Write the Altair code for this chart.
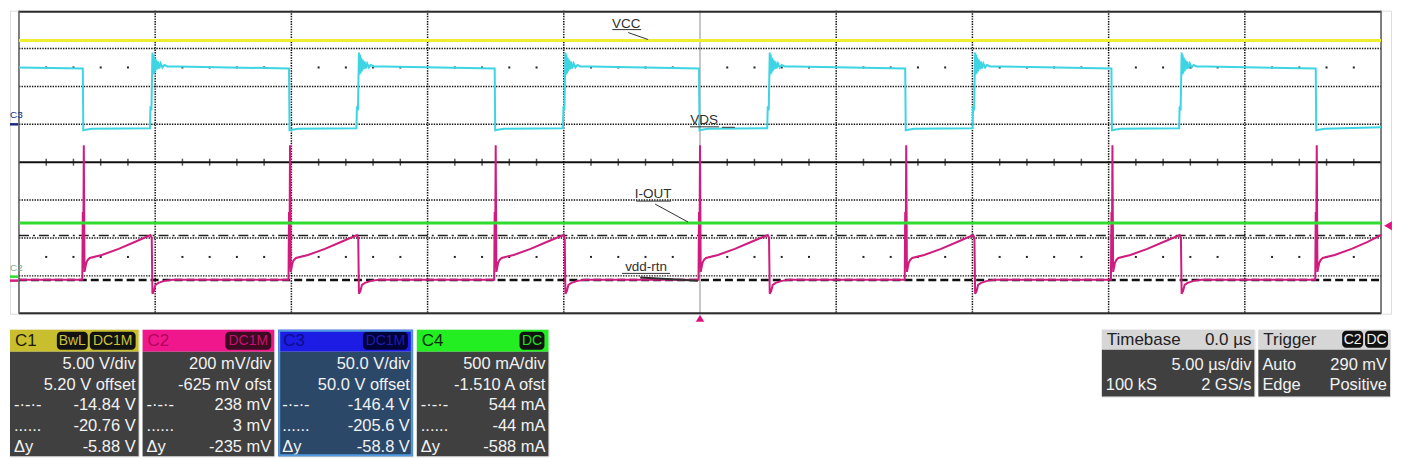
import altair as alt
import pandas as pd

# ---------------- screen conventions ----------------
# x : time in µs (5 µs/div, trigger 0 µs at the centre of the 10-div screen)
# y : screen divisions (8 div tall, centre line = 0)
T_MIN, T_MAX = -25.0, 25.0
PX_PER_US = 27.32
X_LO = T_MIN - 9 / PX_PER_US      # room for the channel markers on the left
X_HI = T_MAX + 10 / PX_PER_US     # room for the trigger-level marker on the right

# ---------------- channel settings (readout panels) ----------------
ch_vdiv = [5.0, 0.200, 50.0, 0.500]
ch_offset = [5.20, -0.625, 50.0, -1.510]
c2_cursor_a = 0.238   # dash-dot cursor, V
c2_cursor_b = 0.003   # second cursor, V
trig_level = 0.290    # V on C2
trig_time = 0.0

# ---------------- switching instants (µs) ----------------
turn_on = [-22.62, -15.05, -7.50, 0.00, 7.57, 15.14, 22.64]
turn_off = [-20.10, -12.52, -4.94, 2.56, 10.10, 17.68]

# flat traces (div)
vcc_level = 3.21      # C1 VCC
iout_level = -1.605   # C4 I-OUT

# C3 VDS edge shapes (dt µs relative to edge, level in div)
vds_start = 2.50
vds_fall_dt = [-0.037, -0.018, 0.073, 0.293]
vds_fall_y = [2.474, 0.842, 0.855, 0.882]
vds_rise_dt = [-0.092, -0.073, -0.037, 0.0, 0.018, 0.037, 0.059, 0.080, 0.106,
               0.135, 0.168, 0.205, 0.249, 0.300, 0.366, 0.439, 0.549, 0.915]
vds_rise_y = [0.895, 1.474, 1.368, 2.895, 2.316, 2.842, 2.342, 2.763, 2.395,
              2.711, 2.447, 2.658, 2.474, 2.605, 2.500, 2.566, 2.526, 2.526]
vds_end = 0.92

# C2 current sense (spike + ramp at turn-on, undershoot at turn-off)
cs_base = -3.105
cs_on_dt = [-0.055, -0.037, -0.022, 0.0, 0.026, 0.055, 0.092, 0.146, 0.22, 0.66, 1.28, 1.87]
cs_on_y = [-3.105, -1.316, -2.789, 0.447, -2.895, -2.789, -2.658, -2.579, -2.526, -2.447, -2.289, -2.105]
cs_off_dt = [-0.073, -0.026, 0.0, 0.055, 0.11, 0.22, 0.44, 0.73]
cs_off_y = [-1.921, -2.0, -3.474, -3.395, -3.237, -3.184, -3.132, -3.105]
cs_end = -1.92

# annotations on the screen
ann_text = ["VCC", "VDS", "I-OUT", "vdd-rtn"]
ann_t = [-2.71, 0.15, -1.72, -1.98]
ann_y = [3.66, 1.105, -0.842, -2.763]
ul_t1 = [-3.22, -0.37, -2.34, -2.86]
ul_t2 = [-2.16, 0.70, -1.06, -1.10]
ul_y = [3.50, 0.934, -1.026, -2.934]
ld_t1 = [-2.635, 0.805, -1.647, -2.196]
ld_y1 = [3.421, 0.921, -1.105, -3.04]
ld_t2 = [-1.903, 1.281, -0.439, -0.073]
ld_y2 = [3.237, 0.921, -1.579, -3.13]

# ---------------- readout panels ----------------
panel_head = ["C1", "C2", "C3", "C4"]
panel_badges = [["BwL", "DC1M"], ["DC1M"], ["DC1M"], ["DC"]]
panel_scale = ["5.00 V/div", "200 mV/div", "50.0 V/div", "500 mA/div"]
panel_offset = ["5.20 V offset", "-625 mV ofst", "50.0 V offset", "-1.510 A ofst"]
panel_cur1 = ["-14.84 V", "238 mV", "-146.4 V", "544 mA"]
panel_cur2 = ["-20.76 V", "3 mV", "-205.6 V", "-44 mA"]
panel_delta = ["-5.88 V", "-235 mV", "-58.8 V", "-588 mA"]
row_marks = ["", "", "-·-·-", "......", "Δy"]
tb_head = ["Timebase", "0.0 µs"]
tb_rows = [["", "5.00 µs/div"], ["100 kS", "2 GS/s"]]
trig_head = "Trigger"
trig_badges = ["C2", "DC"]
trig_rows = [["Auto", "290 mV"], ["Edge", "Positive"]]

# ---------------- styles ----------------
FONT = "Liberation Sans"
COL_VCC, COL_VDS, COL_CS, COL_IOUT = "#eeee30", "#3dd5e3", "#d01b7f", "#2fdc2f"
head_fill = ["#c9bf2e", "#f0178c", "#1c1ce4", "#22ee22"]
head_tc = ["#1a1a00", "#b3005a", "#0c0c8a", "#0b2a0b"]
badge_fill = ["#121212", "#3c0a22", "#02023a", "#121212"]
badge_tc = ["#c9c13a", "#c0156e", "#1d1dae", "#22dd22"]
body_fill = ["#404040", "#404040", "#2c4868", "#404040"]
panel_w = [129, 132, 135, 132]
badge_pos = [[(-82, -51), (-49, -3)], [(-49, -3)], [(-50, -5)], [(-29, -4)]]
trig_badge_pos = [(-48, -27), (-25, -2)]

xs = alt.Scale(domain=[X_LO, X_HI], nice=False, zero=False)
ys = alt.Scale(domain=[-4, 4], nice=False, zero=False)


def XX(f):
    return alt.X(f, scale=xs, axis=None)


def YY(f):
    return alt.Y(f, scale=ys, axis=None)


def trace(start_y, on_dt, on_y, off_dt, off_y, end_y):
    pts = [(T_MIN, start_y)]
    for k, ton in enumerate(turn_on):
        pts += [(ton + d, v) for d, v in zip(on_dt, on_y)]
        if k < len(turn_off):
            pts += [(turn_off[k] + d, v) for d, v in zip(off_dt, off_y)]
    pts.append((T_MAX, end_y))
    return pd.DataFrame({"t": [p[0] for p in pts], "y": [p[1] for p in pts],
                         "i": list(range(len(pts)))})


def line(df, color, width):
    return alt.Chart(df).mark_line(color=color, strokeWidth=width).encode(
        x=XX("t:Q"), y=YY("y:Q"), order="i:Q")


def hrules(ys_, color, width, dash=None, x1=T_MIN, x2=T_MAX):
    df = pd.DataFrame({"y": ys_, "x1": [x1] * len(ys_), "x2": [x2] * len(ys_)})
    kw = dict(color=color, strokeWidth=width)
    if dash:
        kw["strokeDash"] = dash
    return alt.Chart(df).mark_rule(**kw).encode(y=YY("y:Q"), x=XX("x1:Q"), x2="x2:Q")


def vrules(ts, color, width, dash=None):
    df = pd.DataFrame({"t": ts})
    kw = dict(color=color, strokeWidth=width)
    if dash:
        kw["strokeDash"] = dash
    return alt.Chart(df).mark_rule(**kw).encode(x=XX("t:Q"))


# ---------------- scope screen ----------------
major = [T_MIN + 5 * k for k in range(1, 10) if T_MIN + 5 * k != 0]
minor = [float(k) for k in range(-24, 25) if k % 5 != 0]
layers = []
layers.append(vrules(major, "#111111", 1.5, [1.4, 1.2]))
layers.append(vrules([0.0], "#8c8c8c", 1.0))
layers.append(hrules([3, 2, 1, -1, -2, -3], "#111111", 1.5, [1.4, 1.2]))
layers.append(hrules([0], "#111111", 2.0))
layers.append(alt.Chart(pd.DataFrame({"t": minor, "y": [0.0] * len(minor)}))
              .mark_tick(orient="vertical", size=7, thickness=1.5, color="#111111")
              .encode(x=XX("t:Q"), y=YY("y:Q")))
dots = pd.DataFrame({"t": minor * 2, "y": [2.5] * len(minor) + [-2.5] * len(minor)})
layers.append(alt.Chart(dots).mark_square(size=4, color="#222222", opacity=1)
              .encode(x=XX("t:Q"), y=YY("y:Q")))
# frame
layers.append(hrules([4 - 1 / 38], "#2b2b2b", 2.0))
layers.append(hrules([-4 + 0.5 / 38], "#2b2b2b", 2.0))
layers.append(vrules([T_MIN, T_MAX], "#555555", 1.5))
# C2 cursors
cur_a = (c2_cursor_a + ch_offset[1]) / ch_vdiv[1]
cur_b = (c2_cursor_b + ch_offset[1]) / ch_vdiv[1]
layers.append(hrules([cur_a], "#222222", 1.5, [10, 4, 2, 4]))
layers.append(hrules([cur_b], "#111111", 2.5, [8, 4]))
# traces
layers.append(line(pd.DataFrame({"t": [T_MIN, T_MAX], "y": [vcc_level] * 2, "i": [0, 1]}), COL_VCC, 3))
layers.append(line(trace(vds_start, vds_fall_dt, vds_fall_y, vds_rise_dt, vds_rise_y, vds_end), COL_VDS, 2))
layers.append(line(trace(cs_base, cs_on_dt, cs_on_y, cs_off_dt, cs_off_y, cs_end), COL_CS, 2))
layers.append(line(pd.DataFrame({"t": [T_MIN, T_MAX], "y": [iout_level] * 2, "i": [0, 1]}), COL_IOUT, 3))
# annotations
ann = pd.DataFrame({"t": ann_t, "y": ann_y, "s": ann_text})
layers.append(alt.Chart(ann).mark_text(font=FONT, fontSize=13.5, color="#303030",
                                       align="center", baseline="middle")
              .encode(x=XX("t:Q"), y=YY("y:Q"), text="s:N"))
ul = pd.DataFrame({"x1": ul_t1, "x2": ul_t2, "y": ul_y})
layers.append(alt.Chart(ul).mark_rule(color="#303030", strokeWidth=1)
              .encode(x=XX("x1:Q"), x2="x2:Q", y=YY("y:Q")))
ld = pd.DataFrame({"x1": ld_t1, "x2": ld_t2, "y1": ld_y1, "y2": ld_y2, "w": [1, 1, 1, 2]})
layers.append(alt.Chart(ld).mark_rule(color="#303030")
              .encode(x=XX("x1:Q"), x2="x2:Q", y=YY("y1:Q"), y2="y2:Q",
                      strokeWidth=alt.StrokeWidth("w:Q", scale=None)))
# channel ground markers and labels on the left
gnd = [o / v for o, v in zip(ch_offset, ch_vdiv)]
mk = pd.DataFrame({"y": [gnd[2], gnd[3], gnd[1]], "c": ["#1a2a80", COL_IOUT, COL_CS],
                   "x1": [X_LO] * 3, "x2": [T_MIN - 0.03] * 3})
layers.append(alt.Chart(mk).mark_rule(strokeWidth=2.5)
              .encode(x=XX("x1:Q"), x2="x2:Q", y=YY("y:Q"), color=alt.Color("c:N", scale=None)))
lab = pd.DataFrame({"t": [X_LO, X_LO], "y": [gnd[2], gnd[3]], "s": ["C3", "C2"],
                    "c": ["#1a2a80", "#8aa882"]})
layers.append(alt.Chart(lab).mark_text(font=FONT, fontSize=10, align="left", baseline="middle", dy=-9)
              .encode(x=XX("t:Q"), y=YY("y:Q"), text="s:N", color=alt.Color("c:N", scale=None)))
# trigger markers
trig_y = (trig_level + ch_offset[1]) / ch_vdiv[1]
layers.append(alt.Chart(pd.DataFrame({"t": [trig_time], "y": [-4 - 4.5 / 38]}))
              .mark_point(shape="triangle-up", filled=True, size=70, color="#e0107f", opacity=1)
              .encode(x=XX("t:Q"), y=YY("y:Q")))
layers.append(alt.Chart(pd.DataFrame({"t": [T_MAX + 7 / PX_PER_US], "y": [trig_y]}))
              .mark_point(shape="triangle-left", filled=True, size=80, color="#e0107f", opacity=1)
              .encode(x=XX("t:Q"), y=YY("y:Q")))

screen = alt.layer(*layers).properties(width=1385, height=304)


# ---------------- readout panels ----------------
def panel(w, h, head_h, row_y, hfill, bfill, head_l, head_l_c, head_r, head_r_c,
          badges, left_rows, right_rows, border=None):
    pxs = alt.Scale(domain=[0, w], nice=False, zero=False)
    pys = alt.Scale(domain=[0, h], nice=False, zero=False, reverse=True)

    def PX(f):
        return alt.X(f, scale=pxs, axis=None)

    def PY(f):
        return alt.Y(f, scale=pys, axis=None)

    bg = pd.DataFrame({"x0": [0, 0], "x1": [w, w], "y0": [0, head_h], "y1": [head_h, h],
                       "f": [hfill, bfill]})
    L = [alt.Chart(bg).mark_rect().encode(x=PX("x0:Q"), x2="x1:Q", y=PY("y0:Q"), y2="y1:Q",
                                          fill=alt.Fill("f:N", scale=None))]
    if badges:
        bd = pd.DataFrame({"x0": [w + b[0] for b in badges], "x1": [w + b[1] for b in badges],
                           "y0": [b[2] for b in badges], "y1": [b[3] for b in badges],
                           "f": [b[4] for b in badges], "tc": [b[5] for b in badges],
                           "s": [b[6] for b in badges]})
        bd["xc"] = (bd.x0 + bd.x1) / 2
        bd["yc"] = (bd.y0 + bd.y1) / 2
        L.append(alt.Chart(bd).mark_rect(cornerRadius=4).encode(
            x=PX("x0:Q"), x2="x1:Q", y=PY("y0:Q"), y2="y1:Q", fill=alt.Fill("f:N", scale=None)))
        L.append(alt.Chart(bd).mark_text(font=FONT, fontSize=14, baseline="middle", dy=0.5).encode(
            x=PX("xc:Q"), y=PY("yc:Q"), text="s:N", color=alt.Color("tc:N", scale=None)))
    hd = pd.DataFrame({"x": [5, w - 3], "y": [head_h / 2 + 0.5] * 2, "s": [head_l, head_r],
                       "c": [head_l_c, head_r_c]})
    L.append(alt.Chart(hd.iloc[[0]]).mark_text(font=FONT, fontSize=17, align="left", baseline="middle")
             .encode(x=PX("x:Q"), y=PY("y:Q"), text="s:N", color=alt.Color("c:N", scale=None)))
    L.append(alt.Chart(hd.iloc[[1]]).mark_text(font=FONT, fontSize=17, align="right", baseline="middle")
             .encode(x=PX("x:Q"), y=PY("y:Q"), text="s:N", color=alt.Color("c:N", scale=None)))
    lt = pd.DataFrame({"x": [4] * len(row_y), "y": row_y, "s": left_rows})
    rt = pd.DataFrame({"x": [w - 3] * len(row_y), "y": row_y, "s": right_rows})
    L.append(alt.Chart(lt).mark_text(font=FONT, fontSize=16.5, align="left", baseline="middle", color="#f2f2f2")
             .encode(x=PX("x:Q"), y=PY("y:Q"), text="s:N"))
    L.append(alt.Chart(rt).mark_text(font=FONT, fontSize=16.5, align="right", baseline="middle", color="#f2f2f2")
             .encode(x=PX("x:Q"), y=PY("y:Q"), text="s:N"))
    if border:
        fr = pd.DataFrame({"x0": [1], "x1": [w - 1], "y0": [1], "y1": [h - 1]})
        L.append(alt.Chart(fr).mark_rect(filled=False, stroke=border, strokeWidth=2)
                 .encode(x=PX("x0:Q"), x2="x1:Q", y=PY("y0:Q"), y2="y1:Q"))
    return alt.layer(*L).properties(width=w, height=h)


C_H, C_HEAD, C_ROW = 127, 22, 21
c_row_y = [C_HEAD + C_ROW * (k + 0.5) + 1.5 for k in range(5)]
chan_panels = []
for k in range(4):
    rows_r = [panel_scale[k], panel_offset[k], panel_cur1[k], panel_cur2[k], panel_delta[k]]
    bl = [(p[0], p[1], 2, 20, badge_fill[k], badge_tc[k], s)
          for p, s in zip(badge_pos[k], panel_badges[k])]
    chan_panels.append(panel(panel_w[k], C_H, C_HEAD, c_row_y, head_fill[k], body_fill[k],
                             panel_head[k], head_tc[k], "", "#000000", bl, row_marks, rows_r,
                             border="#4f9ae0" if k == 2 else None))

tb = panel(153, 67, 20, [35, 55], "#d6d6d6", "#404040", tb_head[0], "#222222", tb_head[1], "#222222",
           [], [r[0] for r in tb_rows], [r[1] for r in tb_rows])
tg_bl = [(p[0], p[1], 1, 18, "#111111", "#f4f4f4", s) for p, s in zip(trig_badge_pos, trig_badges)]
tg = panel(132, 67, 20, [35, 55], "#d6d6d6", "#404040", trig_head, "#222222", "", "#222222",
           tg_bl, [r[0] for r in trig_rows], [r[1] for r in trig_rows])

# empty gap between the channel readouts and the timebase/trigger readouts
spacer = alt.Chart(pd.DataFrame({"x": [0]})).mark_point(opacity=0).encode(
    x=alt.X("x:Q", axis=None), y=alt.Y("x:Q", axis=None)).properties(
    width=547, height=10, view=alt.ViewBackground(stroke="transparent", strokeWidth=0))

bottom = alt.hconcat(*chan_panels, spacer, tb, tg, spacing=4, bounds="flush")

chart = alt.vconcat(screen, bottom, spacing=16, bounds="flush", padding=0) \
    .configure_view(stroke="transparent", strokeWidth=0) \
    .configure(background="white")

chart.save("out.html", embed_options={"renderer": "svg", "actions": False})
